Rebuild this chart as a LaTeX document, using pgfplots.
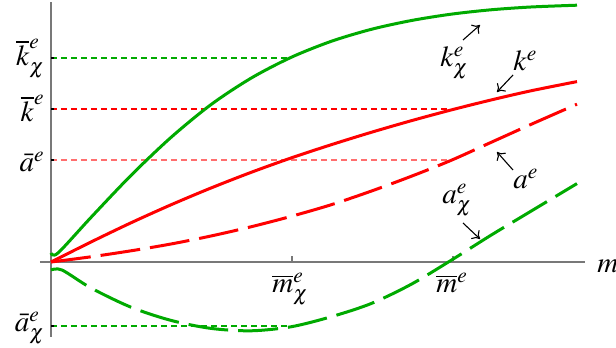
\documentclass[border=0pt]{standalone}
\usepackage{mathptmx}
\usepackage{pgfplots}
\pgfplotsset{compat=1.18}
\usetikzlibrary{arrows.meta}
\definecolor{kgreen}{RGB}{0,170,0}
\definecolor{kred}{RGB}{255,0,0}
\definecolor{lred}{RGB}{255,110,110}
\definecolor{axgray}{RGB}{120,120,120}
\tikzset{
  lab/.style={font=\fontsize{14.5}{16}\selectfont, inner sep=0pt},
  curve/.style={line width=1.5pt, smooth, no markers},
  refl/.style={line width=0.65pt, dash pattern=on 3pt off 2pt, no markers},
  ann/.style={-{To[length=3.5pt,width=6pt]}, line width=0.55pt, black}
}
\begin{document}
\begin{tikzpicture}
\begin{axis}[
  scale only axis, width=267pt, height=167.5pt,
  xmin=0, xmax=534, ymin=-75, ymax=260,
  axis lines=none, clip=false,
]
% guide lines
\addplot[refl, kgreen] coordinates {(0,204) (240,204)};
\addplot[refl, kred] coordinates {(0,153) (396,153)};
\addplot[refl, lred] coordinates {(0,102) (396,102)};
\addplot[refl, kgreen] coordinates {(0,-64) (242,-64)};

% axes
\draw[axgray, line width=0.7pt] (axis cs:0,-75) -- (axis cs:0,260);
\draw[axgray, line width=0.7pt] (axis cs:-11,0) -- (axis cs:534,0);
\pgfplotsinvokeforeach{241,402}{\draw[axgray, line width=0.6pt] (axis cs:#1,0) -- (axis cs:#1,6);}
\pgfplotsinvokeforeach{204,153,102,-64}{\draw[black, line width=0.6pt] (axis cs:0,#1) -- (axis cs:3,#1);}

% k_chi^e
\addplot[curve, kgreen] coordinates {
  (0,9) (7,9) (40,44.6) (80,86.6) (120,124.6) (160,157.4) (200,183.8)
  (240,204.6) (280,220.6) (320,232.6) (360,241.4) (400,247.8) (440,252.2)
  (480,255) (526,256.8)
};
% k^e
\addplot[curve, kred] coordinates {
  (0,0) (40,20) (80,39.2) (120,57.2) (160,74) (200,89.6) (240,104)
  (280,117.2) (320,129.6) (360,141.2) (400,152) (440,162) (480,171.2)
  (526,180.4)
};
% a^e
\addplot[curve, kred, dash pattern=on 20pt off 5pt] coordinates {
  (0,0) (40,5.2) (80,11.2) (120,18) (160,26) (200,35.2) (240,45.6)
  (280,57.2) (320,70.8) (360,85.6) (400,101.6) (440,119.6) (480,137.6)
  (526,157.8)
};
% a_chi^e
\addplot[curve, kgreen, dash pattern=on 20pt off 5pt] coordinates {
  (0,-8) (11,-8) (40,-26) (80,-45.2) (120,-58.4) (160,-66.4) (200,-68.8)
  (240,-64.8) (280,-54.8) (320,-41.6) (360,-22.4) (400,1.6) (440,26.8)
  (480,50.8) (526,78.4)
};

% axis labels
\node[lab, anchor=base east] at (axis cs:-6,196) {$\overline{k}^{e}_{\chi}$};
\node[lab, anchor=base east] at (axis cs:-6,140) {$\overline{k}^{e}$};
\node[lab, anchor=base east] at (axis cs:-6,90) {$\bar{a}^{e}$};
\node[lab, anchor=base east] at (axis cs:-6,-70) {$\bar{a}^{e}_{\chi}$};
\node[lab, anchor=base west] at (axis cs:221,-31) {$\overline{m}^{e}_{\chi}$};
\node[lab, anchor=base west] at (axis cs:385,-31) {$\overline{m}^{e}$};
\node[lab, anchor=base west] at (axis cs:546,-11) {$m$};

% curve labels
\node[lab, anchor=base west] at (axis cs:389,195) {$k^{e}_{\chi}$};
\node[lab, anchor=base west] at (axis cs:462,191) {$k^{e}$};
\node[lab, anchor=base west] at (axis cs:462,73) {$a^{e}$};
\node[lab, anchor=base west] at (axis cs:391,58) {$a^{e}_{\chi}$};
\draw[ann] (axis cs:412,222) -- (axis cs:429,237);
\draw[ann] (axis cs:462,187) -- (axis cs:446,170);
\draw[ann] (axis cs:462,92) -- (axis cs:446,110);
\draw[ann] (axis cs:412,39) -- (axis cs:429,23);

\coordinate (bl) at (axis cs:-51,-86);
\coordinate (tr) at (axis cs:565,262);
\end{axis}
\pgfresetboundingbox
\path[use as bounding box] (bl) rectangle (tr);
\end{tikzpicture}
\end{document}
